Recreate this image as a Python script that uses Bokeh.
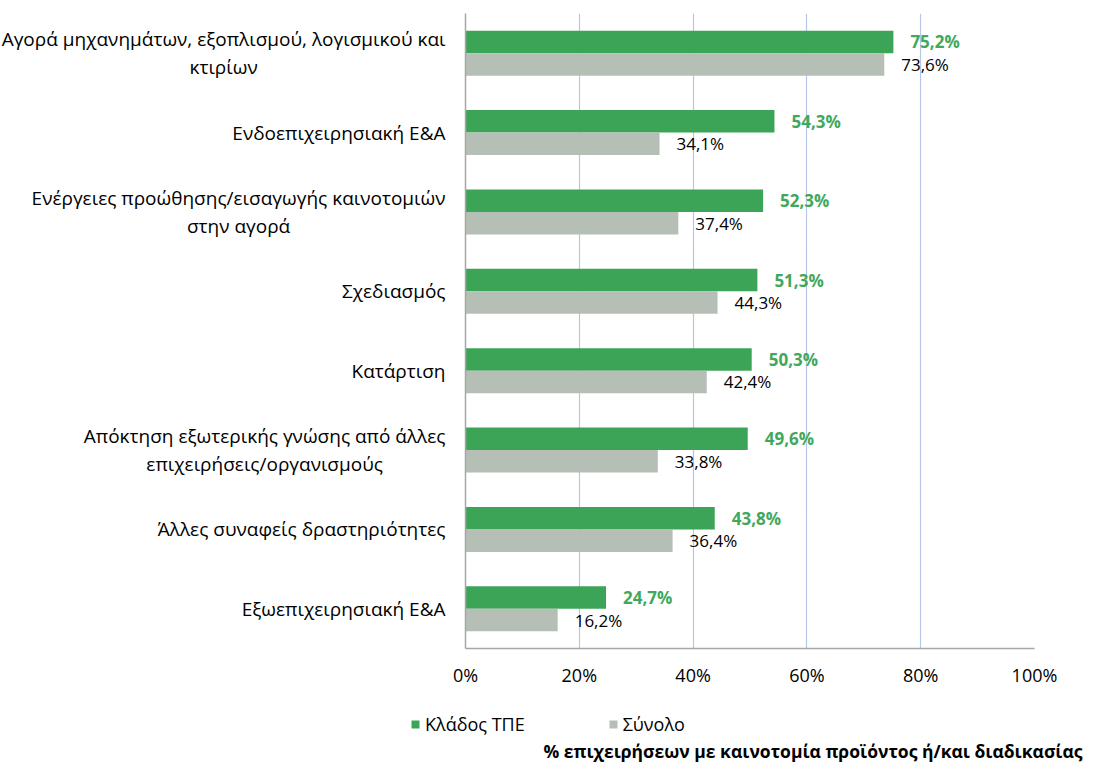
from bokeh.plotting import figure
from bokeh.layouts import row, column
from bokeh.models import (Range1d, FixedTicker, ColumnDataSource, LabelSet, Legend,
                          LegendItem, Label)
from bokeh.core.properties import value
from bokeh.embed import file_html
from bokeh.resources import INLINE

categories = [
    "Αγορά μηχανημάτων, εξοπλισμού, λογισμικού και\nκτιρίων",
    "Ενδοεπιχειρησιακή Ε&Α",
    "Ενέργειες προώθησης/εισαγωγής καινοτομιών\nστην αγορά",
    "Σχεδιασμός",
    "Κατάρτιση",
    "Απόκτηση εξωτερικής γνώσης από άλλες\nεπιχειρήσεις/οργανισμούς",
    "Άλλες συναφείς δραστηριότητες",
    "Εξωεπιχειρησιακή Ε&Α",
]
series_names = ["Κλάδος ΤΠΕ", "Σύνολο"]
kladosTPE = [75.2, 54.3, 52.3, 51.3, 50.3, 49.6, 43.8, 24.7]
synolo = [73.6, 34.1, 37.4, 44.3, 42.4, 33.8, 36.4, 16.2]
x_ticks = [0, 20, 40, 60, 80, 100]
axis_title = "% επιχειρήσεων με καινοτομία προϊόντος ή/και διαδικασίας"

FONT = "Open Sans"
GREEN = "#3ca456"
GREY = "#b5bfb5"
LABEL_GREEN = "#3fa85c"
AXIS_GREY = "#a6a6a6"

# layout constants (pixels)
TOTAL_W, TOP_H, BOT_H = 1084, 700, 62
LEFT_W = 448
FRAME_TOP, FRAME_BOTTOM_BORDER = 13, 52
P_BORDER_L = 17
FRAME_W = 569

idx = list(range(len(categories)))
fmt = lambda v: f"{v:.1f}".replace(".", ",") + "%"
BAR_H = 0.283

src_g = ColumnDataSource(dict(y=[i - BAR_H / 2 for i in idx], v=kladosTPE,
                              t=[fmt(v) for v in kladosTPE]))
src_s = ColumnDataSource(dict(y=[i + BAR_H / 2 for i in idx], v=synolo,
                              t=[fmt(v) for v in synolo]))

y_range = Range1d(7.5, -0.5)

# ---- left panel with category labels ----
lf = figure(width=LEFT_W, height=TOP_H, output_backend="svg", toolbar_location=None,
            x_range=Range1d(0, LEFT_W), y_range=y_range,
            x_axis_location=None, y_axis_location=None,
            min_border=0, min_border_left=0, min_border_right=0,
            min_border_top=FRAME_TOP, min_border_bottom=FRAME_BOTTOM_BORDER)
lf.outline_line_color = None
lf.grid.visible = False
for i, c in zip(idx, categories):
    lf.add_layout(Label(x=445, y=i, text=c, anchor="center_right",
                        text_align="center", text_baseline="middle",
                        text_font=FONT, text_font_size="19px",
                        text_color="#000000", text_line_height=1.1))

# ---- main bar plot ----
p = figure(width=TOTAL_W - LEFT_W, height=TOP_H, output_backend="svg",
           toolbar_location=None, x_range=Range1d(0, 100), y_range=y_range,
           min_border=0, min_border_left=P_BORDER_L,
           min_border_right=TOTAL_W - LEFT_W - P_BORDER_L - FRAME_W,
           min_border_top=FRAME_TOP, min_border_bottom=FRAME_BOTTOM_BORDER)
p.outline_line_color = None

rg = p.hbar(y="y", left=0, right="v", height=BAR_H, source=src_g,
            fill_color=GREEN, line_color=None)
rs = p.hbar(y="y", left=0, right="v", height=BAR_H, source=src_s,
            fill_color=GREY, line_color=None)

p.add_layout(LabelSet(x="v", y="y", text="t", source=src_g, x_offset=17,
                      text_baseline="middle", text_color=LABEL_GREEN,
                      text_font=value(FONT), text_font_size=value("17px"),
                      text_font_style="bold"))
p.add_layout(LabelSet(x="v", y="y", text="t", source=src_s, x_offset=17,
                      text_baseline="middle", text_color="#000000",
                      text_font=value(FONT), text_font_size=value("17px")))

p.xaxis.ticker = FixedTicker(ticks=x_ticks)
p.xaxis.major_label_overrides = {t: f"{t}%" for t in x_ticks}
p.xaxis.major_tick_line_color = None
p.xaxis.minor_tick_line_color = None
p.xaxis.axis_line_color = AXIS_GREY
p.xaxis.axis_line_width = 1.5
p.xaxis.major_label_standoff = 8
p.xaxis.major_label_text_font = FONT
p.xaxis.major_label_text_font_size = "18px"
p.xaxis.major_label_text_color = "#000000"

p.yaxis.ticker = FixedTicker(ticks=[])
p.yaxis.major_tick_line_color = None
p.yaxis.minor_tick_line_color = None
p.yaxis.axis_line_color = AXIS_GREY
p.yaxis.axis_line_width = 1.5

p.xgrid.grid_line_color = "#b4c7e7"
p.xgrid.grid_line_width = 1.2
p.ygrid.grid_line_color = None

# ---- bottom panel: legend and axis title ----
bf = figure(width=TOTAL_W, height=BOT_H, output_backend="svg", toolbar_location=None,
            x_range=Range1d(0, TOTAL_W), y_range=Range1d(0, BOT_H),
            x_axis_location=None, y_axis_location=None, min_border=0,
            min_border_left=0, min_border_right=0, min_border_top=0,
            min_border_bottom=0)
bf.outline_line_color = None
bf.grid.visible = False
# legend proxies placed outside the visible range
dg = bf.hbar(y=[-100], left=[0], right=[1], height=1, fill_color=GREEN, line_color=None)
ds = bf.hbar(y=[-100], left=[0], right=[1], height=1, fill_color=GREY, line_color=None)
legend = Legend(items=[LegendItem(label=series_names[0], renderers=[dg]),
                       LegendItem(label=series_names[1], renderers=[ds])],
                orientation="horizontal", location=(410, 26),
                glyph_width=10, glyph_height=10, label_standoff=5, spacing=83,
                padding=0, margin=0, background_fill_alpha=0,
                border_line_alpha=0, label_text_font=FONT,
                label_text_font_size="18px", label_text_color="#000000")
bf.add_layout(legend, "center")
bf.add_layout(Label(x=1082, y=12, text=axis_title, text_align="right",
                    text_baseline="middle", text_font=FONT,
                    text_font_size="17.5px", text_font_style="bold",
                    text_color="#000000"))

layout = column(row(lf, p, spacing=0), bf, spacing=0)
open("out.html", "w").write(file_html(layout, INLINE))
